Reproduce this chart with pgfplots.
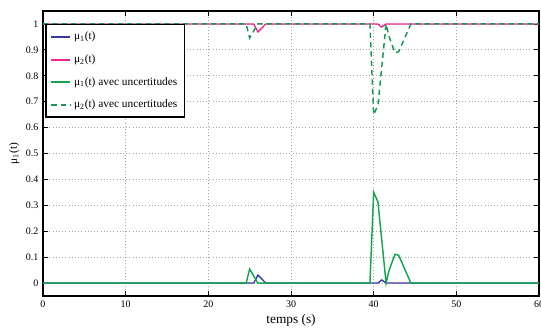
\documentclass[border=0pt]{standalone}
\usepackage{fontspec}
\setmainfont{Liberation Serif}
\usepackage{pgfplots}
\pgfplotsset{compat=1.18}
\definecolor{mblue}{RGB}{55,55,160}
\definecolor{mmag}{RGB}{232,40,140}
\definecolor{mgreen}{RGB}{20,165,80}
\definecolor{mgreend}{RGB}{25,150,85}
\begin{document}
\begin{tikzpicture}
\useasboundingbox (-32.25pt,-27.75pt) rectangle (373.5pt,222pt);
\begin{axis}[
  scale only axis,
  width=372pt, height=213.75pt,
  xmin=0, xmax=60, ymin=-0.05, ymax=1.05,
  xtick={0,10,...,60},
  ytick={0,0.1,0.2,0.3,0.4,0.5,0.6,0.7,0.8,0.9,1},
  yticklabels={0,0.1,0.2,0.3,0.4,0.5,0.6,0.7,0.8,0.9,1},
  /pgf/number format/assume math mode=true,
  tick label style={font=\fontsize{7.5}{8.5}\selectfont},
  tick align=inside,
  major tick length=3.5pt,
  tick style={black, line width=0.6pt},
  axis line style={black, line width=1.5pt},
  grid=major,
  grid style={gray!70, dotted, line width=0.6pt},
  xlabel={temps (s)},
  ylabel={μ\textsubscript{1}(t)},
  xlabel style={font=\fontsize{10}{12}\selectfont, yshift=2pt},
  ylabel style={font=\fontsize{8.5}{10}\selectfont, yshift=-2pt},
  legend cell align=left,
  legend style={draw=black, line width=1.2pt, at={(rel axis cs:0.004,0.955)}, anchor=north west,
    font=\fontsize{8.5}{10}\selectfont, row sep=5.6pt, inner xsep=3.5pt, inner ysep=3.5pt},
  legend image code/.code={\draw[#1, line width=1.5pt] (0cm,0cm) -- (0.5cm,0cm);},
]
\addplot[mblue, line width=1pt] coordinates {(0,0) (25.5,0) (26.0,0.031) (26.95,0) (40.5,0) (40.97,0.012) (41.5,0) (60,0)};
\addlegendentry{μ\textsubscript{1}(t)}
\addplot[mmag, line width=1pt] coordinates {(0,1) (25.5,1) (26.0,0.969) (26.95,1) (40.5,1) (40.97,0.988) (41.5,1) (60,1)};
\addlegendentry{μ\textsubscript{2}(t)}
\addplot[mgreen, line width=1.1pt] coordinates {(0,0) (24.57,0) (25.0,0.054) (25.98,0) (39.55,0) (40.0,0.35) (40.52,0.313) (41.5,0) (41.86,0.049) (42.58,0.111) (43.03,0.107) (44.5,0) (60,0)};
\addlegendentry{μ\textsubscript{1}(t) avec uncertitudes}
\addplot[mgreend, line width=1.1pt, dash pattern=on 4pt off 3pt] coordinates {(0,1) (24.57,1) (25.0,0.946) (25.98,1) (39.55,1) (40.0,0.65) (40.52,0.687) (41.5,1) (41.86,0.951) (42.58,0.889) (43.03,0.893) (44.5,1) (60,1)};
\addlegendentry{μ\textsubscript{2}(t) avec uncertitudes}
\end{axis}
\end{tikzpicture}
\end{document}
